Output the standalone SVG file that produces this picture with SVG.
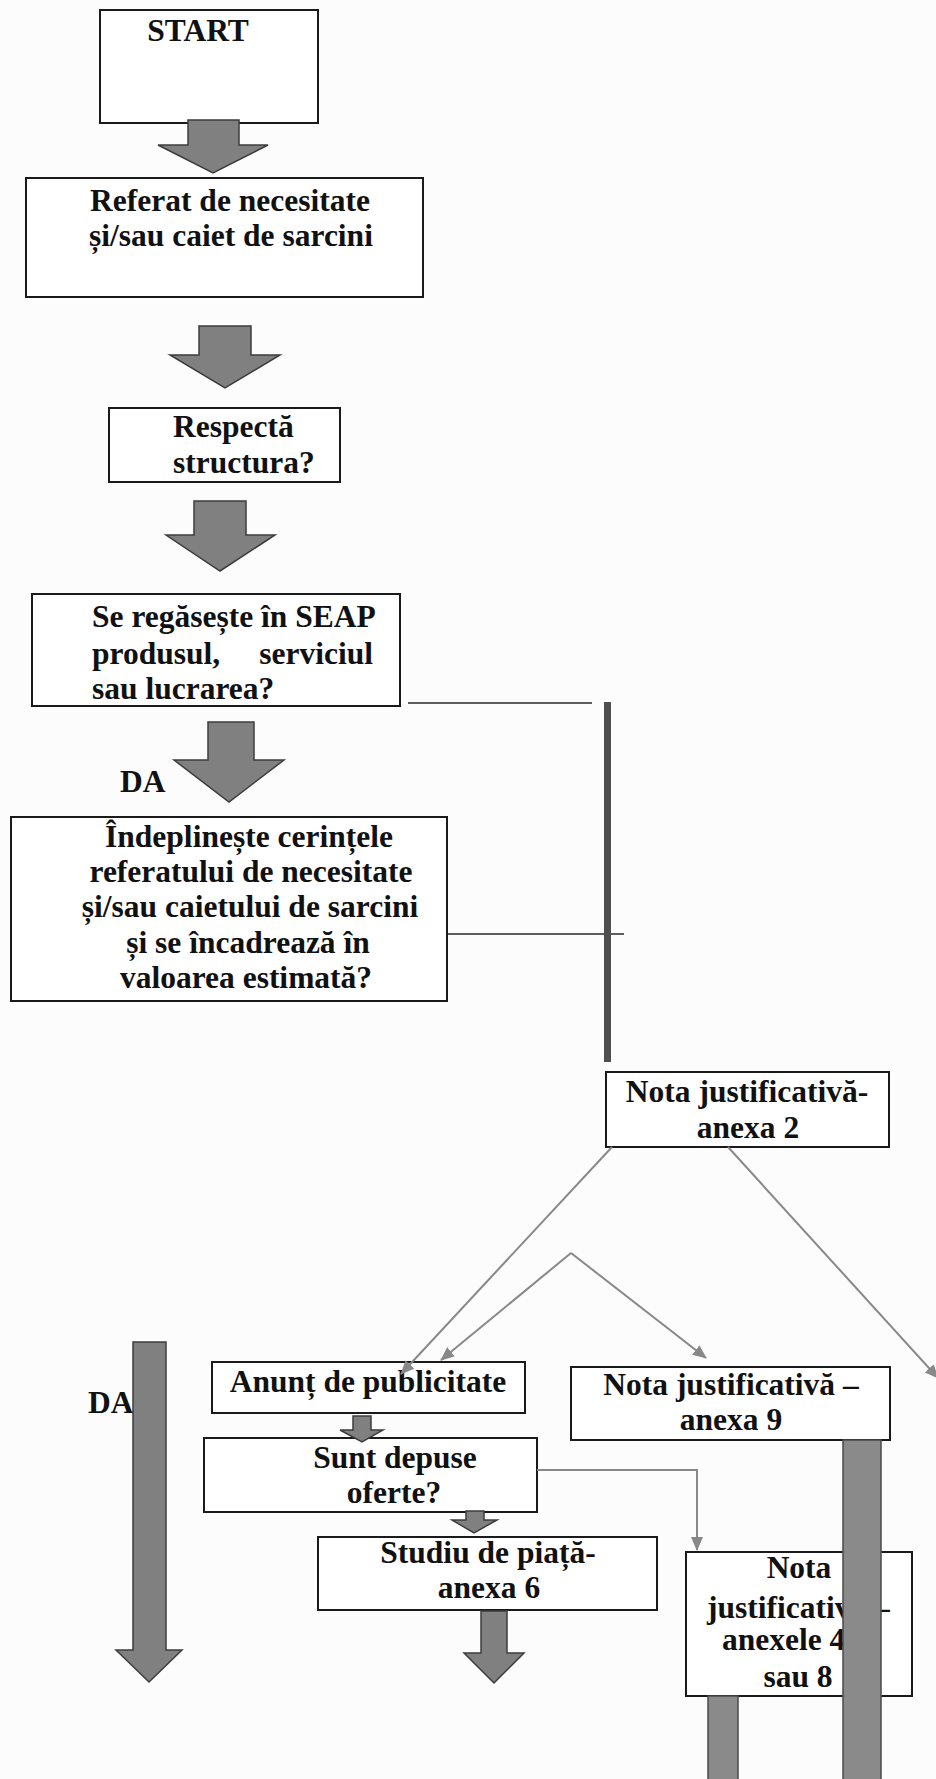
<svg xmlns="http://www.w3.org/2000/svg" width="936" height="1779" viewBox="0 0 936 1779">
<style>
.box{fill:#ffffff;stroke:#1a1a1a;stroke-width:2}
.t{font-family:"Liberation Serif","Times New Roman",serif;font-weight:bold;font-size:31.5px;fill:#111}
.m{text-anchor:middle}
.e{text-anchor:end}
.blk{fill:#808080;stroke:#3c3c3c;stroke-width:1.5;stroke-linejoin:miter}
.bar{fill:#8a8a8a;stroke:#4a4a4a;stroke-width:1.5}
.ln{fill:none;stroke:#888;stroke-width:2}
.hl{fill:none;stroke:#2a2a2a;stroke-width:1.6}
</style>
<defs>
<marker id="ah" viewBox="0 0 14 12" refX="13" refY="6" markerWidth="14" markerHeight="12" markerUnits="userSpaceOnUse" orient="auto">
<path d="M0,0 L14,6 L0,12 Z" fill="#888"/>
</marker>
</defs>
<rect x="0" y="0" width="936" height="1779" fill="#fcfcfc"/>

<g id="nodes">
<g id="start">
<rect class="box" x="100" y="10" width="218" height="113"/>
<text class="t m" x="198" y="41">START</text>
</g>
<g id="referat">
<rect class="box" x="26" y="178" width="397" height="119"/>
<text class="t m" x="230" y="211">Referat de necesitate</text>
<text class="t m" x="231" y="246">și/sau caiet de sarcini</text>
</g>
<g id="respecta">
<rect class="box" x="109" y="408" width="231" height="74"/>
<text class="t" x="173" y="437">Respectă</text>
<text class="t" x="173" y="473">structura?</text>
</g>
<g id="seap">
<rect class="box" x="32" y="594" width="368" height="112"/>
<text class="t" x="92" y="627">Se regăsește în SEAP</text>
<text class="t" x="92" y="664">produsul,</text>
<text class="t e" x="373" y="664">serviciul</text>
<text class="t" x="92" y="699">sau lucrarea?</text>
</g>
<g id="label-da-1">
<text class="t" x="120" y="792">DA</text>
</g>
<g id="indeplineste">
<rect class="box" x="11" y="817" width="436" height="184"/>
<text class="t m" x="249" y="847">Îndeplinește cerințele</text>
<text class="t m" x="251" y="882">referatului de necesitate</text>
<text class="t m" x="250" y="917">și/sau caietului de sarcini</text>
<text class="t m" x="248" y="953">și se încadrează în</text>
<text class="t m" x="246" y="988">valoarea estimată?</text>
</g>
<g id="nota2">
<rect class="box" x="606" y="1072" width="283" height="75"/>
<text class="t m" x="747" y="1102">Nota justificativă-</text>
<text class="t m" x="748" y="1138">anexa 2</text>
</g>
<g id="label-da-2">
<text class="t" x="88" y="1413">DA</text>
</g>
<g id="anunt">
<rect class="box" x="212" y="1362" width="313" height="51"/>
<text class="t m" x="368" y="1392">Anunț de publicitate</text>
</g>
<g id="oferte">
<rect class="box" x="204" y="1438" width="333" height="74"/>
<text class="t m" x="395" y="1468">Sunt depuse</text>
<text class="t m" x="394" y="1503">oferte?</text>
</g>
<g id="studiu">
<rect class="box" x="318" y="1537" width="339" height="73"/>
<text class="t m" x="488" y="1563">Studiu de piață-</text>
<text class="t m" x="489" y="1598">anexa 6</text>
</g>
<g id="nota9">
<rect class="box" x="571" y="1367" width="319" height="73"/>
<text class="t m" x="731" y="1395">Nota justificativă –</text>
<text class="t m" x="731" y="1430">anexa 9</text>
</g>
<g id="nota48">
<rect class="box" x="686" y="1552" width="226" height="144"/>
<text class="t m" x="799" y="1578">Nota</text>
<text class="t" x="707" y="1618">justificativă –</text>
<text class="t" x="722" y="1650">anexele 4</text>
<text class="t m" x="798" y="1687">sau 8</text>
</g>
</g>

<g id="connectors">
<polygon class="blk" points="188,120 239,120 239,145 268,145 213,173 158,145 188,145"/>
<polygon class="blk" points="199,326 251,326 251,355 280,355 225,388 170,355 199,355"/>
<polygon class="blk" points="194,501 246,501 246,535 275,535 220,571 166,535 194,535"/>
<polygon class="blk" points="208,722 254,722 254,760 284,760 229,802 174,760 208,760"/>
<line class="hl" x1="408" y1="703" x2="592" y2="703"/>
<line class="hl" x1="448" y1="934" x2="624" y2="934"/>
<rect x="604" y="702" width="7" height="360" fill="#4f4f4f"/>
<line class="ln" x1="612" y1="1147" x2="401" y2="1374" marker-end="url(#ah)"/>
<line class="ln" x1="728" y1="1147" x2="938" y2="1378" marker-end="url(#ah)"/>
<line class="ln" x1="571" y1="1253" x2="441" y2="1360" marker-end="url(#ah)"/>
<line class="ln" x1="571" y1="1253" x2="706" y2="1358" marker-end="url(#ah)"/>
<polygon class="blk" points="353,1416 371,1416 371,1430 383,1430 362,1442 340,1430 353,1430"/>
<polygon class="blk" points="466,1511 484,1511 484,1520 497,1520 474,1533 452,1520 466,1520"/>
<polyline class="ln" points="537,1470 697,1470 697,1550" marker-end="url(#ah)"/>
<polygon class="blk" points="481,1611 507,1611 507,1653 524,1653 494,1683 464,1653 481,1653"/>
<polygon class="blk" points="133,1342 166,1342 166,1650 182,1650 149,1682 116,1650 133,1650"/>
<rect class="bar" x="843" y="1440" width="38" height="345"/>
<rect class="bar" x="708" y="1696" width="30" height="90"/>
</g>
</svg>
